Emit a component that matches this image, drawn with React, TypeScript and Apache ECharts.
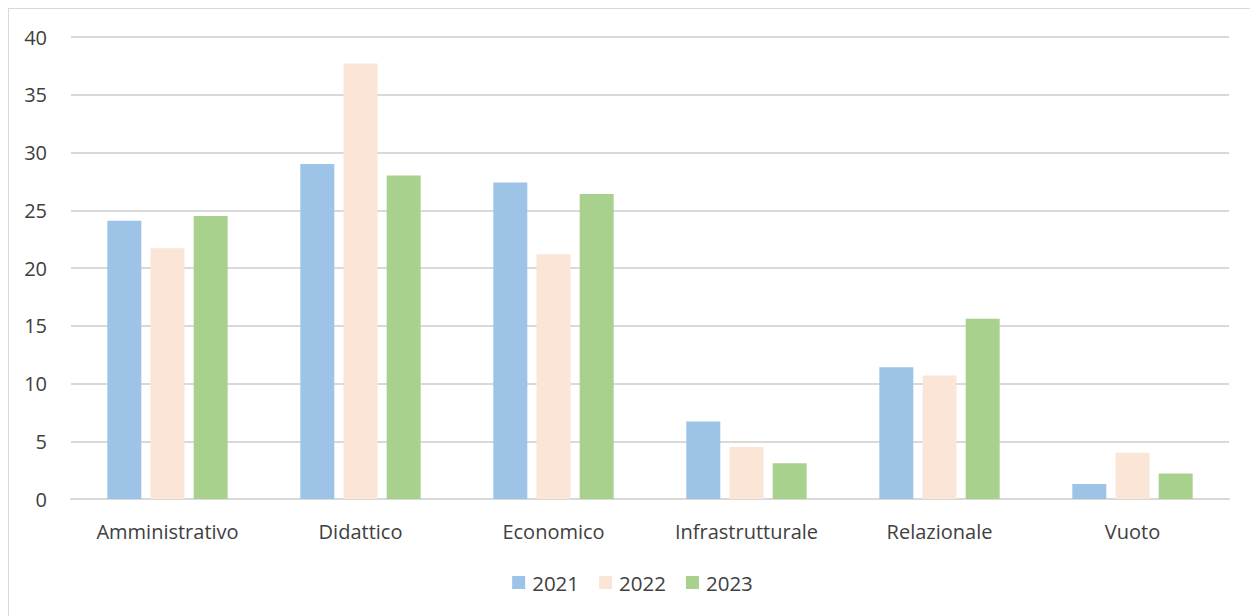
import React, { useEffect, useRef } from "react";
import * as echarts from "echarts";

const categories = ["Amministrativo", "Didattico", "Economico", "Infrastrutturale", "Relazionale", "Vuoto"];
const years = ["2021", "2022", "2023"];
const values2021 = [24.1, 29.0, 27.4, 6.7, 11.4, 1.3];
const values2022 = [21.7, 37.7, 21.2, 4.5, 10.7, 4.0];
const values2023 = [24.5, 28.0, 26.4, 3.1, 15.6, 2.2];
const colors = ["#9DC3E6", "#FBE5D6", "#A9D18E"];

export default function App() {
  const ref = useRef<HTMLDivElement>(null);
  useEffect(() => {
    if (!ref.current) return;
    const chart = echarts.init(ref.current, null, { renderer: "svg" });
    const font = "'Open Sans', sans-serif";
    const seriesData = [values2021, values2022, values2023];
    chart.setOption({
      animation: false,
      textStyle: { fontFamily: font, color: "#404040" },
      grid: { left: 62, right: 27, top: 28, bottom: 118, containLabel: false },
      legend: {
        bottom: 19,
        left: "center",
        itemWidth: 13,
        itemHeight: 13,
        itemGap: 20,
        icon: "rect",
        textStyle: { fontSize: 20.5, color: "#404040", fontFamily: font, padding: [0, 0, 0, 2] },
        data: years,
      },
      xAxis: {
        type: "category",
        data: categories,
        axisLine: { lineStyle: { color: "#D9D9D9", width: 2 } },
        axisTick: { show: false },
        axisLabel: { fontSize: 20, color: "#404040", margin: 22, fontFamily: font },
      },
      yAxis: {
        type: "value",
        min: 0,
        max: 40,
        interval: 5,
        axisLine: { show: false },
        axisTick: { show: false },
        splitLine: { lineStyle: { color: "#D9D9D9", width: 2 } },
        axisLabel: { fontSize: 20, color: "#404040", margin: 24, fontFamily: font },
      },
      series: years.map((y, i) => ({
        name: y,
        type: "bar",
        data: seriesData[i],
        barWidth: 34,
        barGap: "27%",
        itemStyle: { color: colors[i] },
      })),
    });
    return () => chart.dispose();
  }, []);
  return (
    <div
      ref={ref}
      style={{
        width: 1251,
        height: 612,
        boxSizing: "border-box",
        border: "2px solid #D9D9D9",
        marginLeft: -1,
        marginTop: -1,
      }}
    />
  );
}
